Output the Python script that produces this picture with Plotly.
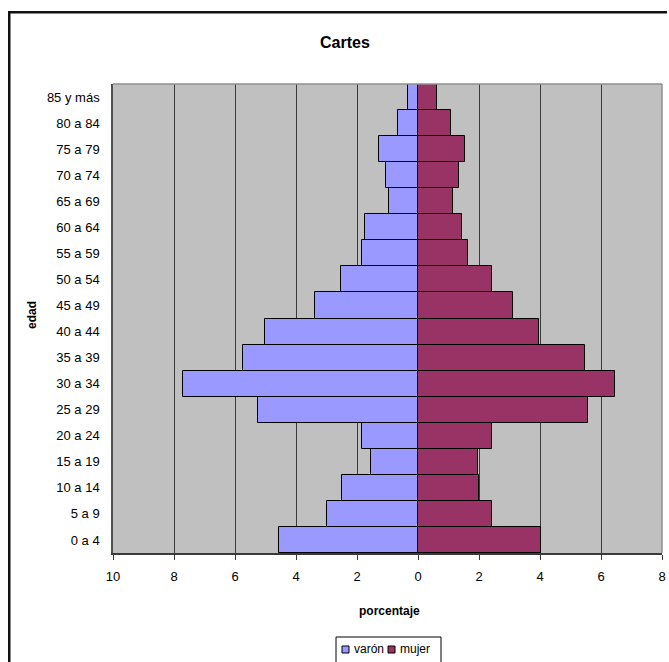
import plotly.graph_objects as go

edades = ["0 a 4", "5 a 9", "10 a 14", "15 a 19", "20 a 24", "25 a 29", "30 a 34",
          "35 a 39", "40 a 44", "45 a 49", "50 a 54", "55 a 59", "60 a 64",
          "65 a 69", "70 a 74", "75 a 79", "80 a 84", "85 y más"]
varon = [4.56, 2.97, 2.50, 1.55, 1.82, 5.24, 7.71, 5.74, 5.03, 3.38, 2.54, 1.85,
         1.75, 0.94, 1.05, 1.27, 0.64, 0.33]
mujer = [4.03, 2.44, 2.00, 1.97, 2.44, 5.56, 6.47, 5.49, 3.97, 3.12, 2.42, 1.63,
         1.44, 1.16, 1.35, 1.54, 1.09, 0.61]
series_names = ["varón", "mujer"]
series_colors = ["#9999FF", "#993366"]
tick_vals = [-10, -8, -6, -4, -2, 0, 2, 4, 6, 8]
tick_text = ["10", "8", "6", "4", "2", "0", "2", "4", "6", "8"]

W, H = 669, 662
L, R, T, B = 113, 7, 84, 109
pw, ph = W - L - R, H - T - B

def px(x):
    return (x - L) / pw

def py(y):
    return (H - B - y) / ph

FONT = "Arial, 'Liberation Sans', sans-serif"

fig = go.Figure()
fig.add_trace(go.Bar(y=edades, x=[-v for v in varon], orientation="h", name=series_names[0],
                     marker=dict(color=series_colors[0], line=dict(color="#000000", width=1)),
                     customdata=varon, showlegend=False,
                     hovertemplate="%{y}: %{customdata}<extra>varón</extra>"))
fig.add_trace(go.Bar(y=edades, x=mujer, orientation="h", name=series_names[1],
                     marker=dict(color=series_colors[1], line=dict(color="#000000", width=1)),
                     showlegend=False,
                     hovertemplate="%{y}: %{x}<extra>mujer</extra>"))

leg_top, leg_cy = 637, 649
leg_items = [(342, 352), (388, 398)]  # swatch left, text left
shapes = [
    # outer chart border: left edge and top edge (runs off the right and bottom of the page)
    dict(type="rect", xref="paper", yref="paper", x0=px(8), x1=px(10.5),
         y0=py(662), y1=py(11), line=dict(width=0), fillcolor="#111111"),
    dict(type="rect", xref="paper", yref="paper", x0=px(8), x1=px(667),
         y0=py(13.5), y1=py(11), line=dict(width=0), fillcolor="#111111"),
    # plot-area frame top/right
    dict(type="line", xref="paper", yref="paper", x0=0, x1=1, y0=1, y1=1,
         line=dict(color="#909090", width=1.5)),
    dict(type="line", xref="paper", yref="paper", x0=1, x1=1, y0=0, y1=1,
         line=dict(color="#909090", width=1.5)),
    # legend box
    dict(type="rect", xref="paper", yref="paper", x0=px(336), x1=px(441),
         y0=py(663), y1=py(leg_top), line=dict(color="black", width=1), fillcolor="white"),
]
annotations = [
    dict(text="<b>Cartes</b>", xref="paper", yref="paper", x=px(345), y=py(43),
         showarrow=False, font=dict(size=16, family=FONT), xanchor="center", yanchor="middle"),
    dict(text="<b>porcentaje</b>", xref="paper", yref="paper", x=px(389), y=py(611),
         showarrow=False, font=dict(size=12, family=FONT), xanchor="center", yanchor="middle"),
    dict(text="<b>edad</b>", xref="paper", yref="paper", x=px(32), y=py(315),
         showarrow=False, textangle=-90, font=dict(size=12, family=FONT),
         xanchor="center", yanchor="middle"),
]
for (sx, tx), name, col in zip(leg_items, series_names, series_colors):
    shapes.append(dict(type="rect", xref="paper", yref="paper", x0=px(sx), x1=px(sx + 7),
                       y0=py(leg_cy + 4), y1=py(leg_cy - 3),
                       line=dict(color="black", width=1), fillcolor=col))
    annotations.append(dict(text=name, xref="paper", yref="paper", x=px(tx), y=py(leg_cy),
                            showarrow=False, font=dict(size=12, family=FONT),
                            xanchor="left", yanchor="middle"))

fig.update_layout(
    width=W, height=H,
    margin=dict(l=L, r=R, t=T, b=B, autoexpand=False),
    barmode="relative", bargap=0,
    paper_bgcolor="white", plot_bgcolor="#C0C0C0",
    font=dict(family=FONT, size=12, color="black"),
    showlegend=False,
    xaxis=dict(range=[-10, 8], tickvals=tick_vals, ticktext=tick_text,
               showgrid=True, gridcolor="#3a3a3a", gridwidth=1, zeroline=False,
               ticks="outside", ticklen=5, tickcolor="#3a3a3a",
               showline=True, linecolor="#3a3a3a", linewidth=1.5, mirror=False,
               ticklabelstandoff=6, tickfont=dict(size=13), fixedrange=True),
    yaxis=dict(categoryorder="array", categoryarray=edades, showgrid=False,
               zeroline=False, showline=True, linecolor="#505050", linewidth=1.5,
               ticks="", ticklabelstandoff=9, tickfont=dict(size=13), fixedrange=True),
    shapes=shapes,
    annotations=annotations,
)

fig.write_html("out.html", config={"displayModeBar": False},
               post_script="document.body.style.margin='0';document.body.style.overflow='hidden';")
